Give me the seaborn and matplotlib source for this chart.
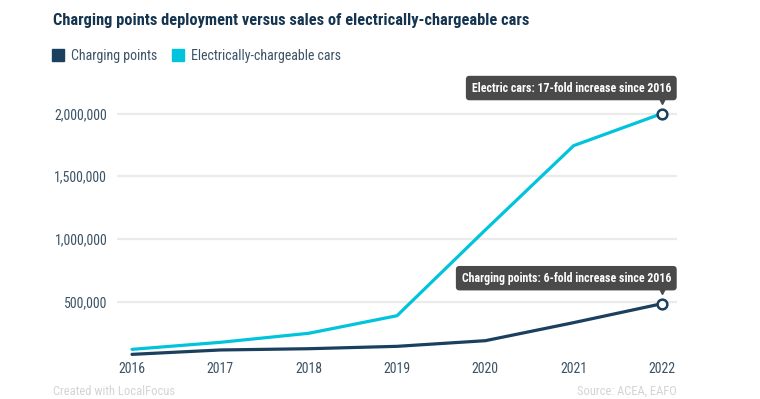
import matplotlib
matplotlib.use("Agg")
import matplotlib.pyplot as plt
from matplotlib.lines import Line2D
from matplotlib.transforms import offset_copy
import seaborn as sns
import pandas as pd

years = [2016, 2017, 2018, 2019, 2020, 2021, 2022]
charging_points = [80000, 115000, 125000, 144000, 189000, 333000, 484000]
ev_cars = [120000, 176000, 248000, 388000, 1072000, 1744000, 2000000]
series_names = ["Charging points", "Electrically-chargeable cars"]
y_ticks = [500000, 1000000, 1500000, 2000000]
annotations = ["Charging points: 6-fold increase since 2016",
               "Electric cars: 17-fold increase since 2016"]
title = "Charging points deployment versus sales of electrically-chargeable cars"

NAVY = "#1b3f5e"
CYAN = "#00c4dc"
TXT = "#3b5366"
TITLE = "#14344f"

sns.set_theme(style="white")
FONTS = ["Liberation Sans Narrow", "Roboto Condensed", "Liberation Sans", "DejaVu Sans"]
plt.rcParams["font.family"] = FONTS

df = pd.DataFrame({
    "year": years * 2,
    "value": charging_points + ev_cars,
    "series": [series_names[0]] * len(years) + [series_names[1]] * len(years),
})

fig = plt.figure(figsize=(7.6, 3.99), dpi=100)
ax = fig.add_axes([117 / 760, (399 - 358) / 399, 560 / 760, (358 - 100) / 399])

sns.lineplot(data=df, x="year", y="value", hue="series",
             palette={series_names[0]: NAVY, series_names[1]: CYAN},
             hue_order=[series_names[1], series_names[0]],
             linewidth=2.3, legend=False, ax=ax, clip_on=False)

ax.set_xlim(2015.83, 2022.17)
ax.set_ylim(51000, 2108000)
ax.set_xticks(years)
ax.set_xticklabels([str(y) for y in years])
ax.set_yticks(y_ticks)
ax.set_yticklabels([f"{v:,}" for v in y_ticks])
ax.set_xlabel("")
ax.set_ylabel("")
for s in ax.spines.values():
    s.set_visible(False)
ax.grid(False)
for v in y_ticks:
    ax.axhline(v, color="#ebebeb", linewidth=1.6, zorder=0)
ax.tick_params(axis="x", length=0, pad=3, labelsize=10, labelcolor=TXT)
ax.tick_params(axis="y", length=0, pad=7, labelsize=10, labelcolor=TXT)

# end markers and annotations
ends = [(years[-1], charging_points[-1], annotations[0]),
        (years[-1], ev_cars[-1], annotations[1])]
for x, y, label in ends:
    ax.plot([x], [y], marker="o", markersize=7, markerfacecolor="white",
            markeredgecolor=NAVY, markeredgewidth=1.8, zorder=5, clip_on=False)
    tri = offset_copy(ax.transData, fig=fig, x=0, y=12.5, units="dots")
    ax.plot([x], [y], marker="v", markersize=5, color="#4a4a4a",
            transform=tri, zorder=6, clip_on=False)
    ax.annotate(label, xy=(x, y), xytext=(9, 19), textcoords="offset pixels",
                ha="right", va="bottom", color="white", fontsize=8.6,
                fontweight="bold", zorder=7,
                bbox=dict(boxstyle="round,pad=0.48,rounding_size=0.3",
                          facecolor="#4a4a4a", edgecolor="none"))

# title
fig.text(53 / 760, 1 - 21 / 399, title, ha="left", va="center",
         fontsize=11.8, fontweight="bold", color=TITLE)

# legend
handles = [Line2D([0], [0], marker="s", linestyle="none", markersize=8.5,
                  markerfacecolor=NAVY, markeredgecolor=NAVY),
           Line2D([0], [0], marker="s", linestyle="none", markersize=8.5,
                  markerfacecolor=CYAN, markeredgecolor=CYAN)]
leg = fig.legend(handles, series_names, loc="center left",
                 bbox_to_anchor=(52 / 760, 1 - 56 / 399), ncol=2, frameon=False,
                 fontsize=10, handlelength=0.8, handletextpad=0.55,
                 columnspacing=1.1, borderaxespad=0, borderpad=0)
for t in leg.get_texts():
    t.set_color(TXT)

# footer
fig.text(53 / 760, 1 - 398 / 399, "Created with LocalFocus", ha="left", va="bottom",
         fontsize=9, color="#d4d4d4")
fig.text(677 / 760, 1 - 398 / 399, "Source: ACEA, EAFO", ha="right", va="bottom",
         fontsize=9, color="#d4d4d4")

fig.savefig("out.png", dpi=100, facecolor="white")
